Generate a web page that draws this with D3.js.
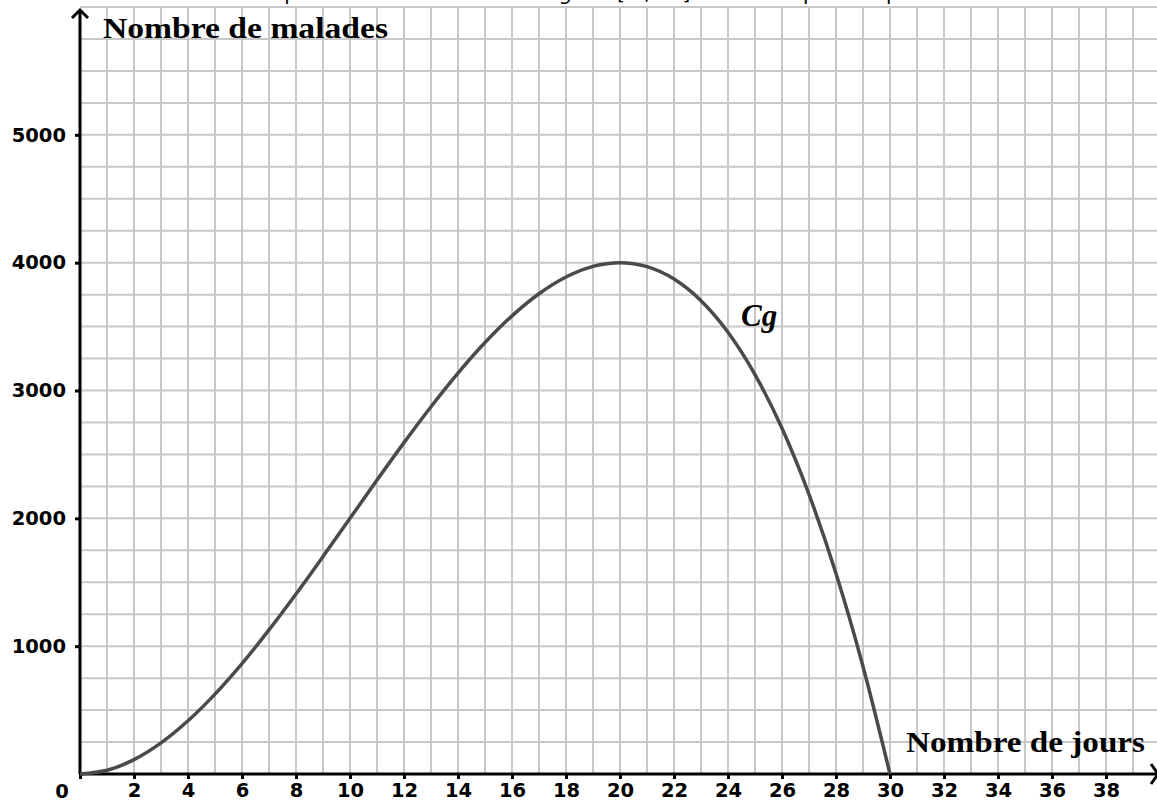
<!DOCTYPE html>
<meta charset="utf-8">
<script src="https://d3js.org/d3.v7.min.js"></script>
<style>
  body { margin: 0; background: #fff; }
</style>
<svg id="chart"></svg>
<script>

// days and number of sick people
let days = [0,1,2,3,4,5,6,7,8,9,10,11,12,13,14,15,16,17,18,19,20,21,22,23,24,25,26,27,28,29,30];
let sick = [0,29,112,243,416,625,864,1127,1408,1701,2000,2299,2592,2873,3136,3375,3584,3757,3888,3971,4000,3969,3872,3703,3456,3125,2704,2187,1568,841,0];

let x_ticks = [0,2,4,6,8,10,12,14,16,18,20,22,24,26,28,30,32,34,36,38];
let y_ticks = [1000,2000,3000,4000,5000];
let x_grid = d3.range(1, 41);        // one line per day
let y_grid = d3.range(250, 6001, 250); // one line every 250

let width = 1157, height = 803;

let svg = d3.select("#chart")
    .attr("width", width)
    .attr("height", height);

let x = d3.scaleLinear().domain([0, 40]).range([80, 1160]);
let y = d3.scaleLinear().domain([0, 6000]).range([774, 7]);

// text above the graph, cut by the top of the page
let intro = svg.append("text")
    .attr("x", 240)
    .attr("y", 0)
    .style("font-family", "DejaVu Sans, sans-serif")
    .style("font-size", "20px");
intro.append("tspan").text("la représentation de la fonction ");
intro.append("tspan").style("font-style", "italic").text("g");
intro.append("tspan").text(" sur [0 ; 30] dans un repère du plan.");

// grid
let grid = svg.append("g")
    .attr("stroke", "#c8c8c8")
    .attr("stroke-width", 2);

grid.selectAll("line.v")
  .data(x_grid)
  .enter()
    .append("line")
      .attr("x1", d => x(d)).attr("x2", d => x(d))
      .attr("y1", y(6000)).attr("y2", y(0));

grid.selectAll("line.h")
  .data(y_grid)
  .enter()
    .append("line")
      .attr("x1", x(0)).attr("x2", width)
      .attr("y1", d => y(d)).attr("y2", d => y(d));

// axes with ticks
let x_axis = svg.append("g")
    .attr("transform", "translate(0," + y(0) + ")")
    .call(d3.axisBottom(x).tickValues(x_ticks).tickSize(5).tickPadding(4)
        .tickFormat(d => d == 0 ? "" : d));

let y_axis = svg.append("g")
    .attr("transform", "translate(" + x(0) + ",0)")
    .call(d3.axisLeft(y).tickValues(y_ticks).tickSize(5).tickPadding(9)
        .tickFormat(d3.format("d")));

[x_axis, y_axis].forEach(function(a) {
  a.select(".domain").remove();
  a.selectAll(".tick line").attr("stroke", "#000").attr("stroke-width", 3);
  a.selectAll(".tick text")
      .style("font-family", "DejaVu Sans, sans-serif")
      .style("font-weight", "bold")
      .style("font-size", "19.5px")
      .attr("fill", "#000");
});

svg.append("text")
    .attr("x", 62).attr("y", 798)
    .attr("text-anchor", "middle")
    .style("font-family", "DejaVu Sans, sans-serif")
    .style("font-weight", "bold")
    .style("font-size", "19.5px")
    .text("0");

// axis lines and arrows
let axes = svg.append("g")
    .attr("stroke", "#000")
    .attr("stroke-width", 3)
    .attr("fill", "none");

axes.append("line")
    .attr("x1", x(0)).attr("x2", 1157)
    .attr("y1", y(0)).attr("y2", y(0));
axes.append("path")
    .attr("d", "M1151,764 L1158,774 L1151,784");

axes.append("line")
    .attr("x1", x(0)).attr("x2", x(0))
    .attr("y1", y(0)).attr("y2", 10);
axes.append("path")
    .attr("d", "M72,18 L80,10 L88,18");

// the curve
let line = d3.line()
    .x((d, i) => x(days[i]))
    .y(d => y(d))
    .curve(d3.curveMonotoneX);

svg.append("path")
    .datum(sick)
    .attr("d", line)
    .attr("fill", "none")
    .attr("stroke", "#4a4a4a")
    .attr("stroke-width", 3.5);

// labels
svg.append("text")
    .attr("x", 103).attr("y", 38)
    .style("font-family", "Liberation Serif, serif")
    .style("font-weight", "bold")
    .style("font-size", "30px")
    .attr("textLength", 285)
    .attr("lengthAdjust", "spacingAndGlyphs")
    .text("Nombre de malades");

svg.append("text")
    .attr("x", 906).attr("y", 752)
    .style("font-family", "Liberation Serif, serif")
    .style("font-weight", "bold")
    .style("font-size", "30px")
    .attr("textLength", 239)
    .attr("lengthAdjust", "spacingAndGlyphs")
    .text("Nombre de jours");

svg.append("text")
    .attr("x", 741).attr("y", 326)
    .style("font-family", "Liberation Serif, serif")
    .style("font-weight", "bold")
    .style("font-style", "italic")
    .style("font-size", "31px")
    .text("Cg");

</script>
